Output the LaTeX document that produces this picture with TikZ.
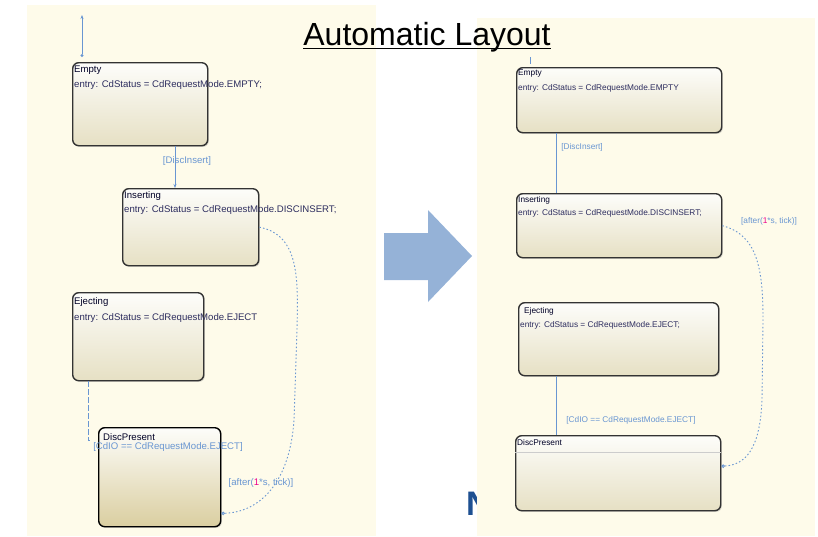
\documentclass[tikz,border=0pt]{standalone}
\usepackage{fontspec}
\setmainfont{Liberation Sans}
\usetikzlibrary{arrows.meta,shadows,positioning}

\definecolor{panelbg}{RGB}{254,251,234}
\definecolor{statetop}{RGB}{253,253,250}
\definecolor{statebot}{RGB}{230,224,196}
\definecolor{discbot}{RGB}{218,206,160}
\definecolor{transblue}{RGB}{105,150,210}
\definecolor{entrynavy}{RGB}{45,45,95}
\definecolor{bigarrow}{RGB}{149,178,215}
\definecolor{slideblue}{RGB}{30,80,145}

\tikzset{
  chartstate/.style={draw=black!80, line width=1.4pt, rounded corners=6pt,
    top color=statetop, bottom color=statebot, anchor=north west, inner sep=0pt,
    drop shadow={shadow xshift=1.2pt, shadow yshift=-1.2pt, opacity=0.3}},
  lsize/.style={font=\fontsize{9.6}{11}\selectfont},
  rsize/.style={font=\fontsize{8.3}{9}\selectfont},
  sname/.style={anchor=west, inner sep=0pt, text=black!85!blue},
  sentry/.style={anchor=west, inner sep=0pt, text=entrynavy},
  trans/.style={draw=transblue, line width=0.9pt},
  tlabel/.style={inner sep=0pt, text=transblue},
  loopdots/.style={trans, dash pattern=on 1.5pt off 2.2pt},
}

\begin{document}
\begin{tikzpicture}[x=1pt, y=-1pt]
  \useasboundingbox (0,0) rectangle (818,536);

  %--------------------------
  % Left chart: hand-drawn layout
  %--------------------------
  \fill[panelbg] (27,5) rectangle (376,536);

  \node[chartstate, minimum width=135pt, minimum height=83pt] (lEmpty) at (72,62) {};
  \node[chartstate, minimum width=136pt, minimum height=77pt] (lIns) at (122,188) {};
  \node[chartstate, minimum width=131pt, minimum height=88pt] (lEj) at (72,292) {};
  \node[chartstate, minimum width=122pt, minimum height=99pt, draw=black,
    bottom color=discbot] (lDisc) at (98,427) {};

  \node[sname, lsize] (lEmptyN) at ([shift={(2pt,-8pt)}]lEmpty.north west) {Empty};
  \node[sentry, lsize] (lEmptyE) at ([yshift=-15pt]lEmptyN.west) {entry: CdStatus = CdRequestMode.EMPTY;};
  \node[sname, lsize] (lInsN) at ([shift={(2pt,-8pt)}]lIns.north west) {Inserting};
  \node[sentry, lsize] (lInsE) at ([yshift=-14pt]lInsN.west) {entry: CdStatus = CdRequestMode.DISCINSERT;};
  \node[sname, lsize] (lEjN) at ([shift={(2pt,-10pt)}]lEj.north west) {Ejecting};
  \node[sentry, lsize] (lEjE) at ([yshift=-16pt]lEjN.west) {entry: CdStatus = CdRequestMode.EJECT};
  \node[sname, lsize] (lDiscN) at ([shift={(5pt,-10pt)}]lDisc.north west) {DiscPresent};

  % transitions
  \coordinate (lInit) at (82,15);
  \coordinate (lInitEnd) at (82,57);
  \draw[trans, {Circle[open,length=3pt]}-{Stealth[length=4pt,width=3pt]}] (lInitEnd) -- (lInit);

  \coordinate (lx1) at (175,0);
  \draw[trans, -{Stealth[length=4pt,width=3pt]}] (lEmpty.south -| lx1) -- (lIns.north -| lx1);
  \node[tlabel, lsize] (lInsLbl) at (187,161) {[DiscInsert]};

  \coordinate (lx2) at (88,0);
  \coordinate (lEjEnd) at (90,440);
  \draw[loopdots, dash pattern=on 6pt off 2pt] (lEj.south -| lx2) -- (lx2 |- lEjEnd) -- (lEjEnd);
  \node[tlabel, lsize] (lEjLbl) at (168,447) {[CdIO == CdRequestMode.EJECT]};

  \draw[loopdots, -{Circle[open,length=3.5pt]}] (lIns.east)
    .. controls (300,235) and (298,280) .. (297,330) -- (294,420)
    .. controls (290,480) and (262,512) .. ([yshift=14pt]lDisc.south east);
  \node[tlabel, lsize] (lAfterLbl) at (261,483) {[after(\textcolor{magenta}{1}*s, tick)]};

  % hidden slide letter
  \node[inner sep=0pt, anchor=west, text=slideblue, font=\fontsize{34}{34}\selectfont\bfseries] (slideN) at (466,504) {N};

  %--------------------------
  % Right chart: automatic layout
  %--------------------------
  \fill[panelbg] (477,18) rectangle (815,536);

  \node[chartstate, minimum width=205pt, minimum height=65pt] (rEmpty) at (516,67) {};
  \node[chartstate, minimum width=205pt, minimum height=64pt] (rIns) at (516,193) {};
  \node[chartstate, minimum width=200pt, minimum height=73pt] (rEj) at (518,302) {};
  \node[chartstate, minimum width=205pt, minimum height=75pt] (rDisc) at (515,435) {};
  \draw[black!20, line width=0.8pt] ([yshift=-17pt]rDisc.north west) -- ([yshift=-17pt]rDisc.north east);

  \node[sname, rsize] (rEmptyN) at ([shift={(2pt,-7pt)}]rEmpty.north west) {Empty};
  \node[sentry, rsize] (rEmptyE) at ([yshift=-14pt]rEmptyN.west) {entry: CdStatus = CdRequestMode.EMPTY};
  \node[sname, rsize] (rInsN) at ([shift={(2pt,-7pt)}]rIns.north west) {Inserting};
  \node[sentry, rsize] (rInsE) at ([yshift=-13pt]rInsN.west) {entry: CdStatus = CdRequestMode.DISCINSERT;};
  \node[sname, rsize] (rEjN) at ([shift={(6pt,-9pt)}]rEj.north west) {Ejecting};
  \node[sentry, rsize] (rEjE) at ([shift={(-4pt,-14pt)}]rEjN.west) {entry: CdStatus = CdRequestMode.EJECT;};
  \node[sname, rsize] (rDiscN) at ([shift={(2pt,-8pt)}]rDisc.north west) {DiscPresent};

  \coordinate (rInit) at (530,57);
  \coordinate (rInitEnd) at (530,64);
  \draw[trans] (rInit) -- (rInitEnd);

  \coordinate (rx1) at (556,0);
  \draw[trans] (rEmpty.south -| rx1) -- (rIns.north -| rx1);
  \node[tlabel, rsize] (rInsLbl) at (582,147) {[DiscInsert]};

  \draw[trans] (rEj.south -| rx1) -- (rDisc.north -| rx1);
  \node[tlabel, rsize] (rEjLbl) at (631,420) {[CdIO == CdRequestMode.EJECT]};

  \draw[loopdots, -{Circle[open,length=3.5pt]}] (rIns.east)
    .. controls (758,235) and (763,270) .. (763,320) -- (762,400)
    .. controls (760,450) and (745,465) .. ([yshift=7pt]rDisc.east);
  \node[tlabel, rsize] (rAfterLbl) at (769,221) {[after(\textcolor{magenta}{1}*s, tick)]};

  %--------------------------
  % Big arrow and title
  %--------------------------
  \fill[bigarrow] (384,233) -- (428,233) -- (428,210) -- (472,256)
    -- (428,302) -- (428,280) -- (384,280) -- cycle;

  \node[inner sep=0pt, anchor=base, font=\fontsize{32}{32}\selectfont] (title) at (427,45) {Automatic Layout};
  \draw[line width=1.5pt] ([yshift=-3.5pt]title.base west) -- ([yshift=-3.5pt]title.base east);

\end{tikzpicture}
\end{document}
